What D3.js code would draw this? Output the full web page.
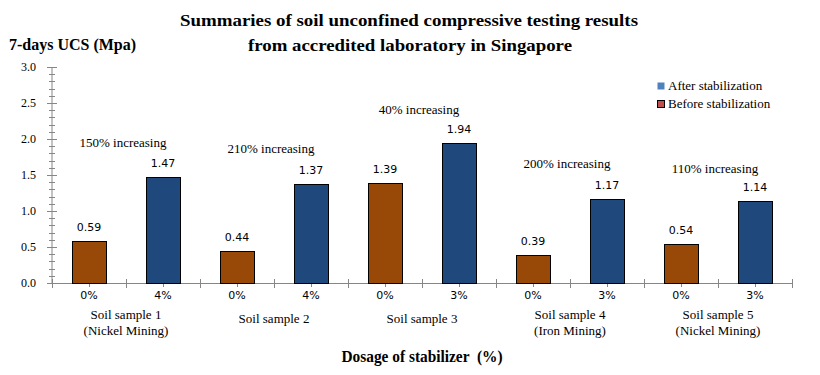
<!DOCTYPE html>
<html>
<head>
<meta charset="utf-8">
<script src="https://cdn.jsdelivr.net/npm/d3@7"></script>
<style>
  html, body { margin: 0; padding: 0; background: #fff; }
  #chart { width: 820px; height: 375px; }
</style>
</head>
<body>
<div id="chart"></div>
<script>
// values
const samples = ["Soil sample 1", "Soil sample 2", "Soil sample 3", "Soil sample 4", "Soil sample 5"];
const sampleNotes = ["(Nickel Mining)", "", "", "(Iron Mining)", "(Nickel Mining)"];
const dosages = ["0%", "4%", "0%", "4%", "0%", "3%", "0%", "3%", "0%", "3%"];
const stages = ["before", "after", "before", "after", "before", "after", "before", "after", "before", "after"];
const ucsValues = [0.59, 1.47, 0.44, 1.37, 1.39, 1.94, 0.39, 1.17, 0.54, 1.14];
const increaseLabels = ["150% increasing", "210% increasing", "40% increasing", "200% increasing", "110% increasing"];
const increaseLevels = [1.89, 1.81, 2.35, 1.60, 1.53];
const yTicks = [0, 0.5, 1.0, 1.5, 2.0, 2.5, 3.0];
const legendItems = ["After stabilization", "Before stabilization"];

(function() {
  const width = 820;
  const height = 375;
  const margin = { top: 67, right: 28, bottom: 92, left: 52 };
  const serif = "'Liberation Serif', 'Times New Roman', serif";
  const sans = "'DejaVu Sans', Verdana, sans-serif";
  const axisColor = "#868686";

  const barFill = { before: "#984807", after: "#1f497d" };
  const legendFill = ["#4f81bd", "#c0504d"];

  const svg = d3.select("#chart")
    .append("svg")
    .attr("width", width)
    .attr("height", height);

  const data = ucsValues.map((v, i) => ({ key: i, value: v, dose: dosages[i], stage: stages[i] }));

  const x = d3.scaleBand()
    .domain(data.map(d => d.key))
    .range([margin.left, width - margin.right])
    .paddingInner(0.54)
    .paddingOuter(0.27);

  const y = d3.scaleLinear()
    .domain([0, 3])
    .range([height - margin.bottom, margin.top]);

  const step = x.step();
  const x0 = margin.left;
  const groupCenter = i => x0 + step * (2 * i + 1);

  // titles
  svg.append("text")
    .attr("x", 409).attr("y", 26)
    .attr("text-anchor", "middle")
    .attr("textLength", 458).attr("lengthAdjust", "spacingAndGlyphs")
    .style("font-family", serif).style("font-weight", "bold").style("font-size", "17px")
    .text("Summaries of soil unconfined compressive testing results");
  svg.append("text")
    .attr("x", 410).attr("y", 51)
    .attr("text-anchor", "middle")
    .attr("textLength", 324).attr("lengthAdjust", "spacingAndGlyphs")
    .style("font-family", serif).style("font-weight", "bold").style("font-size", "17px")
    .text("from accredited laboratory in Singapore");
  svg.append("text")
    .attr("x", 9).attr("y", 50)
    .attr("textLength", 127).attr("lengthAdjust", "spacingAndGlyphs")
    .style("font-family", serif).style("font-weight", "bold").style("font-size", "16px")
    .text("7-days UCS (Mpa)");

  // y axis
  const yAxis = svg.append("g");
  yAxis.append("line")
    .attr("x1", x0).attr("x2", x0)
    .attr("y1", y(0)).attr("y2", y(3))
    .attr("stroke", axisColor);
  yAxis.selectAll(".minor")
    .data(d3.range(0, 31).map(k => k / 10))
    .join("line")
    .attr("x1", x0 - 3).attr("x2", x0 + 3)
    .attr("y1", d => Math.round(y(d)) + 0.5).attr("y2", d => Math.round(y(d)) + 0.5)
    .attr("stroke", axisColor);
  yAxis.selectAll(".major")
    .data(yTicks)
    .join("line")
    .attr("x1", x0 - 5).attr("x2", x0 + 5)
    .attr("y1", d => Math.round(y(d)) + 0.5).attr("y2", d => Math.round(y(d)) + 0.5)
    .attr("stroke", axisColor);
  yAxis.selectAll("text")
    .data(yTicks)
    .join("text")
    .attr("x", 36).attr("y", d => y(d) + 4)
    .attr("text-anchor", "end")
    .style("font-family", serif).style("font-size", "12px")
    .text(d => d.toFixed(1));

  // x axis
  const xAxis = svg.append("g");
  xAxis.append("line")
    .attr("x1", x0 - 5).attr("x2", width - margin.right)
    .attr("y1", Math.round(y(0)) + 0.5).attr("y2", Math.round(y(0)) + 0.5)
    .attr("stroke", axisColor);
  xAxis.selectAll(".bound")
    .data(d3.range(0, 11))
    .join("line")
    .attr("x1", k => Math.round(x0 + k * step) + 0.5).attr("x2", k => Math.round(x0 + k * step) + 0.5)
    .attr("y1", y(0) - 4).attr("y2", y(0) + 5)
    .attr("stroke", axisColor);
  xAxis.selectAll(".mid")
    .data(data)
    .join("line")
    .attr("x1", d => Math.round(x(d.key) + x.bandwidth() / 2) + 0.5)
    .attr("x2", d => Math.round(x(d.key) + x.bandwidth() / 2) + 0.5)
    .attr("y1", y(0)).attr("y2", y(0) + 4)
    .attr("stroke", axisColor);
  xAxis.selectAll(".dose")
    .data(data)
    .join("text")
    .attr("x", d => x(d.key) + x.bandwidth() / 2)
    .attr("y", 299)
    .attr("text-anchor", "middle")
    .style("font-family", sans).style("font-size", "11px")
    .text(d => d.dose);

  // group labels
  samples.forEach((s, i) => {
    const cx = groupCenter(i);
    const two = sampleNotes[i] !== "";
    const t = svg.append("text")
      .attr("text-anchor", "middle")
      .style("font-family", serif).style("font-size", "13px");
    t.append("tspan").attr("x", cx).attr("y", two ? 319 : 323).text(s);
    if (two) t.append("tspan").attr("x", cx).attr("y", 335).text(sampleNotes[i]);
  });

  svg.append("text")
    .attr("x", 422).attr("y", 362)
    .attr("text-anchor", "middle")
    .attr("textLength", 161).attr("lengthAdjust", "spacingAndGlyphs")
    .style("white-space", "pre")
    .style("font-family", serif).style("font-weight", "bold").style("font-size", "16px")
    .text("Dosage of stabilizer  (%)");

  // bars
  svg.selectAll(".bar")
    .data(data)
    .join("rect")
    .attr("x", d => Math.round(x(d.key)) + 0.5)
    .attr("y", d => Math.round(y(d.value)) + 0.5)
    .attr("width", Math.round(x.bandwidth()))
    .attr("height", d => Math.round(y(0)) - Math.round(y(d.value)))
    .attr("fill", d => barFill[d.stage])
    .attr("stroke", "#000")
    .attr("stroke-width", 1);

  svg.selectAll(".val")
    .data(data)
    .join("text")
    .attr("x", d => x(d.key) + x.bandwidth() / 2)
    .attr("y", d => y(d.value) - 10)
    .attr("text-anchor", "middle")
    .style("font-family", sans).style("font-size", "11px")
    .text(d => d.value.toFixed(2));

  // increase annotations
  svg.selectAll(".inc")
    .data(increaseLabels)
    .join("text")
    .attr("x", (d, i) => groupCenter(i) - 3)
    .attr("y", (d, i) => y(increaseLevels[i]))
    .attr("text-anchor", "middle")
    .style("font-family", serif).style("font-size", "13px")
    .text(d => d);

  // legend
  const lg = svg.append("g").attr("transform", "translate(657, 82)");
  legendItems.forEach((label, i) => {
    lg.append("rect")
      .attr("x", 0.5).attr("y", i * 18 + 0.5)
      .attr("width", 7).attr("height", 7)
      .attr("fill", legendFill[i])
      .attr("stroke", i === 1 ? "#000" : "none");
    lg.append("text")
      .attr("x", 11).attr("y", i * 18 + 8)
      .style("font-family", serif).style("font-size", "13px")
      .text(label);
  });
})();
</script>
</body>
</html>
